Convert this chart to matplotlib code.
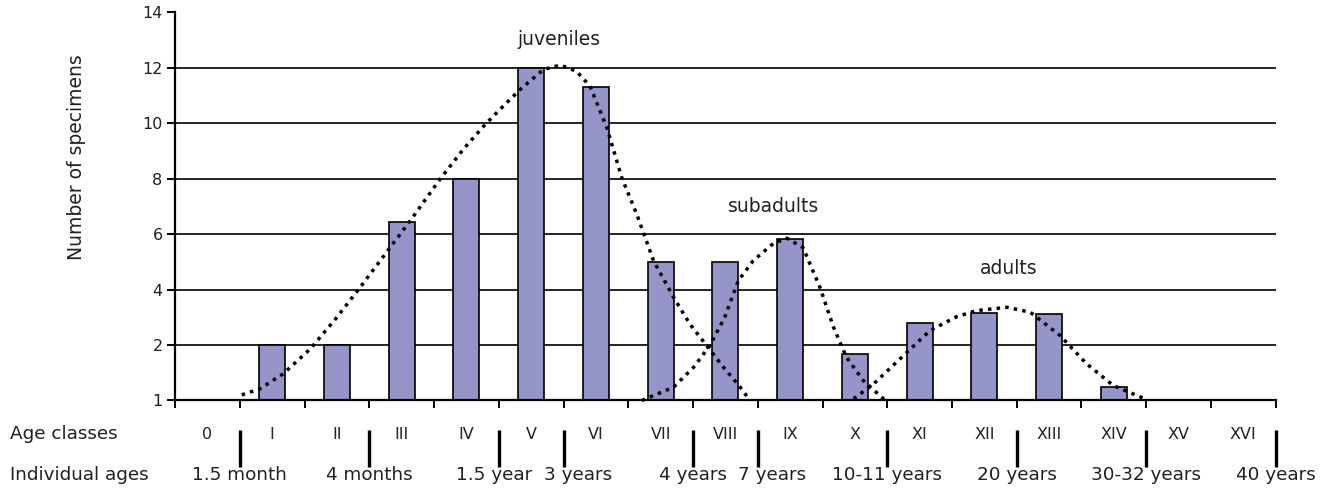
import matplotlib
matplotlib.use("Agg")
import matplotlib.pyplot as plt
import matplotlib.transforms as mtransforms

plt.rcParams['font.family'] = ['DejaVu Sans']

# ---------------- data ----------------
age_classes = ["0", "I", "II", "III", "IV", "V", "VI", "VII", "VIII", "IX",
               "X", "XI", "XII", "XIII", "XIV", "XV", "XVI"]
# bar heights in the chart's gridline units (gridlines every 2 units)
specimens = [0, 2.0, 2.0, 6.45, 8.0, 12.0, 11.3, 5.0, 5.0, 5.82,
             1.68, 2.8, 3.14, 3.13, 0.48, 0, 0]

y_tick_values = [0, 2, 4, 6, 8, 10, 12, 14]
y_tick_labels = ["1", "2", "4", "6", "8", "10", "12", "14"]

# individual ages, placed at class boundaries (boundary k lies between class k-1 and k)
age_boundaries = [1, 3, 5, 6, 8, 9, 11, 13, 15, 17]
age_labels = ["1.5 month", "4 months", "1.5 year", "3 years", "4 years",
              "7 years", "10-11 years", "20 years", "30-32 years", "40 years"]

# dotted group curves
juv_x = [0.53, 0.81, 1.17, 1.59, 2.00, 2.36, 2.82, 3.13, 3.59, 3.95, 4.29, 4.57,
         4.83, 5.19, 5.45, 5.70, 5.91, 6.17, 6.40, 6.63, 6.89, 7.20, 7.45, 7.71,
         7.97, 8.23, 8.38]
juv_y = [0.20, 0.42, 0.96, 1.86, 3.00, 4.08, 5.51, 6.47, 7.97, 9.05, 9.95, 10.61,
         11.21, 11.93, 12.09, 11.87, 11.33, 9.83, 8.03, 6.72, 5.04, 3.72, 2.76, 1.98,
         1.20, 0.48, 0.0]
sub_x = [6.71, 7.20, 7.51, 7.76, 7.99, 8.20, 8.43, 8.74, 8.95, 9.20, 9.46, 9.67,
         9.87, 10.13, 10.47]
sub_y = [0.0, 0.48, 1.20, 1.98, 3.00, 4.32, 5.04, 5.66, 5.85, 5.51, 4.08, 2.64,
         1.56, 0.72, 0.0]
adu_x = [9.98, 10.29, 10.67, 11.16, 11.57, 11.88, 12.35, 12.71, 13.17, 13.58,
         13.99, 14.51]
adu_y = [0.06, 0.60, 1.44, 2.52, 3.02, 3.24, 3.36, 3.18, 2.34, 1.32, 0.54, 0.03]

group_names = ["juveniles", "subadults", "adults"]
group_label_pos = [(5.43, 13.02), (8.74, 7.01), (12.38, 4.75)]

# ---------------- style ----------------
TXT = "#231f20"
BAR = "#9595c9"

fig = plt.figure(figsize=(13.30, 4.92), dpi=100)
ax = fig.add_axes([0.1316, 0.186, 0.8276, 0.7894])

n = len(age_classes)
xs = list(range(n))

# gridlines
for v in y_tick_values[1:-1]:
    ax.axhline(v, color="black", lw=1.2, zorder=1)

ax.bar(xs, specimens, width=0.40, color=BAR, edgecolor="black", linewidth=1.2,
       zorder=2)

dot = dict(color="black", lw=2.5, linestyle=(0, (1, 1.5)),
           dash_capstyle="butt", zorder=3, clip_on=False)
ax.plot(juv_x, juv_y, **dot)
ax.plot(sub_x, sub_y, **dot)
ax.plot(adu_x, adu_y, **dot)

for name, (gx, gy) in zip(group_names, group_label_pos):
    ax.text(gx, gy, name, ha="center", va="center", fontsize=13.5, color=TXT)

ax.set_xlim(-0.5, n - 0.5)
ax.set_ylim(0, 14)

ax.set_yticks(y_tick_values)
ax.set_yticklabels(y_tick_labels, fontsize=11.5, color=TXT)
ax.set_xticks([b - 0.5 for b in range(n + 1)])
ax.set_xticklabels([])
ax.tick_params(axis="y", direction="out", length=6, width=1.4, pad=3)
ax.tick_params(axis="x", direction="out", length=6, width=1.4)

for s in ("top", "right"):
    ax.spines[s].set_visible(False)
for s in ("left", "bottom"):
    ax.spines[s].set_linewidth(1.6)

# bottom tables
blend = mtransforms.blended_transform_factory(ax.transData, fig.transFigure)
for i, lab in enumerate(age_classes):
    ax.text(i, 0.1077, lab, transform=blend, ha="center", va="baseline",
            fontsize=11.5, color=TXT, clip_on=False)

age_offsets = [0, 0, -0.07, 0.22, 0, 0.22, 0, 0, 0, 0]
for b, lab, off in zip(age_boundaries, age_labels, age_offsets):
    bx = b - 0.5
    ax.plot([bx, bx], [0.126, 0.0508], transform=blend, color="black",
            lw=2.4, solid_capstyle="butt", clip_on=False)
    ax.text(bx + off, 0.0244, lab, transform=blend, ha="center", va="baseline",
            fontsize=13.2, color=TXT, clip_on=False)

fig.text(0.0075, 0.1077, "Age classes", ha="left", va="baseline",
         fontsize=13.2, color=TXT)
fig.text(0.0075, 0.0244, "Individual ages", ha="left", va="baseline",
         fontsize=13.2, color=TXT)
fig.text(0.0577, 0.681, "Number of specimens", rotation=90, ha="center",
         va="center", fontsize=13.5, color=TXT)

fig.savefig("out.png", dpi=100)
